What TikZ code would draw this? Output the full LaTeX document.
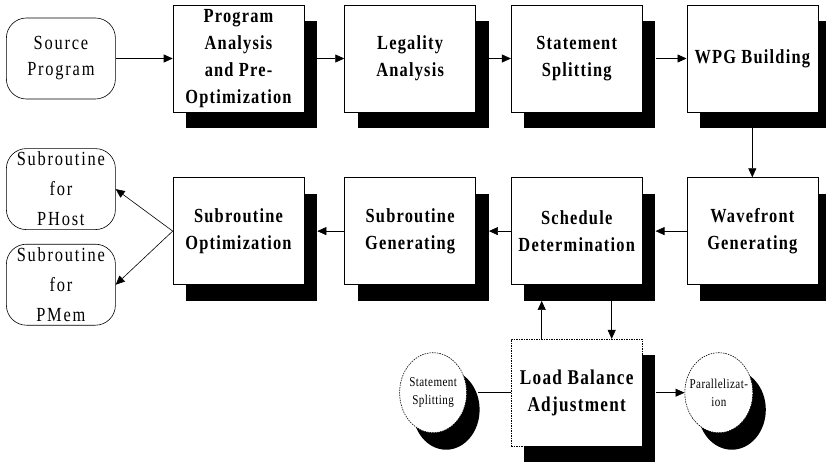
\documentclass[tikz,border=0pt]{standalone}
\usepackage{fontspec}
\newfontfamily\diagfont{Liberation Serif}[FakeStretch=0.82,LetterSpace=9]
\newfontfamily\boxfont{Liberation Serif}[FakeStretch=0.82,LetterSpace=6]
\newfontfamily\ovalfont{Liberation Serif}[FakeStretch=0.82,LetterSpace=3]
\usetikzlibrary{arrows.meta}
\usetikzlibrary{positioning}
\usetikzlibrary{shadows}
\usetikzlibrary{shapes.geometric}
\tikzset{
    >={Triangle[width=8pt,length=9pt]},
    base/.style =   {
                        rectangle, draw=black, line width=0.6pt, fill=white,
                        minimum width=131pt, minimum height=107pt,
                        text centered, align=center, inner sep=0pt
                    },
    hard_shadow/.style = {drop shadow={shadow xshift=13pt, shadow yshift=-#1, fill=black, opacity=1}},
    stage/.style = {base, hard_shadow=16pt, font=\boxfont\bfseries\fontsize{20}{27}\selectfont},
    adjust/.style = {stage, dash pattern=on 1.5pt off 1pt, font=\boxfont\bfseries\fontsize{21}{27}\selectfont},
    terminal/.style = {base, rounded corners=20pt, minimum width=109pt, minimum height=81pt},
    oval/.style = {ellipse, draw=black, fill=white, line width=0.6pt, dash pattern=on 1.5pt off 1pt,
                   minimum width=67pt, minimum height=80pt, inner sep=0pt, hard_shadow=17pt},
    oval_text/.style = {font=\ovalfont\fontsize{13.5}{18}\selectfont, align=center, inner sep=0pt},
    link/.style = {line width=0.6pt}
}

\begin{document}
\begin{tikzpicture}[node distance=40pt]
    \useasboundingbox (0,0) rectangle (826pt,464pt);

    % top row, left to right
    \node (prog_analysis) [stage] at (238.5pt,405.5pt) {Program\\Analysis\\and Pre-\\Optimization};
    \node (legality)      [stage, right=40pt of prog_analysis] {Legality\\Analysis};
    \node (stmt_split)    [stage, right=35pt of legality]      {Statement\\Splitting};
    \node (wpg)           [stage, right=44pt of stmt_split]    {WPG Building};
    \node (src)           [terminal, font=\diagfont\fontsize{20}{26}\selectfont, left=57pt of prog_analysis] {Source\\Program};

    % second row, right to left
    \node (wavefront)     [stage, below=65pt of wpg]           {Wavefront\\Generating};
    \node (schedule)      [stage, left=44pt of wavefront]      {Schedule\\Determination};
    \node (sub_gen)       [stage, left=35pt of schedule]       {Subroutine\\Generating};
    \node (sub_opt)       [stage, left=40pt of sub_gen]        {Subroutine\\Optimization};
    \node (sub_phost)     [terminal, font=\diagfont\fontsize{20}{30}\selectfont, below=49pt of src]       {Subroutine\\for\\PHost};
    \node (sub_pmem)      [terminal, font=\diagfont\fontsize{20}{30}\selectfont, below=14pt of sub_phost] {Subroutine\\for\\PMem};

    % load balancing loop
    \node (load_bal)      [adjust, below=54pt of schedule]     {Load Balance\\Adjustment};
    \node (split_oval)    [oval, left=44pt of load_bal,
                           label={[oval_text]center:Statement\\Splitting}] {};
    \node (par_oval)      [oval, right=42pt of load_bal, minimum width=68pt,
                           label={[oval_text]center:Parallelizat-\\ion}] {};

    \draw[link, ->] (src) -- (prog_analysis);
    \draw[link, ->] ([xshift=13pt]prog_analysis.east) -- (legality.west);
    \draw[link, ->] ([xshift=13pt]legality.east) -- (stmt_split.west);
    \draw[link, ->] ([xshift=13pt]stmt_split.east) -- (wpg.west);
    \draw[link, ->] (wpg.south) -- (wavefront.north);
    \draw[link, ->] (wavefront.west) -- ([xshift=13pt]schedule.east);
    \draw[link, ->] (schedule.west) -- ([xshift=13pt]sub_gen.east);
    \draw[link, ->] (sub_gen.west) -- ([xshift=13pt]sub_opt.east);
    \draw[link, ->] (sub_opt.west) -- (sub_phost.east);
    \draw[link, ->] (sub_opt.west) -- (sub_pmem.east);

    \draw[link, ->] ([xshift=-35pt]load_bal.north) -- ([xshift=-35pt,yshift=-16pt]schedule.south);
    \draw[link, ->] ([xshift=35pt,yshift=-16pt]schedule.south) -- ([xshift=35pt]load_bal.north);
    \draw[link]     ([xshift=11pt]split_oval.east) -- (load_bal.west);
    \draw[link, ->] ([xshift=13pt]load_bal.east) -- (par_oval.west);
\end{tikzpicture}
\end{document}
